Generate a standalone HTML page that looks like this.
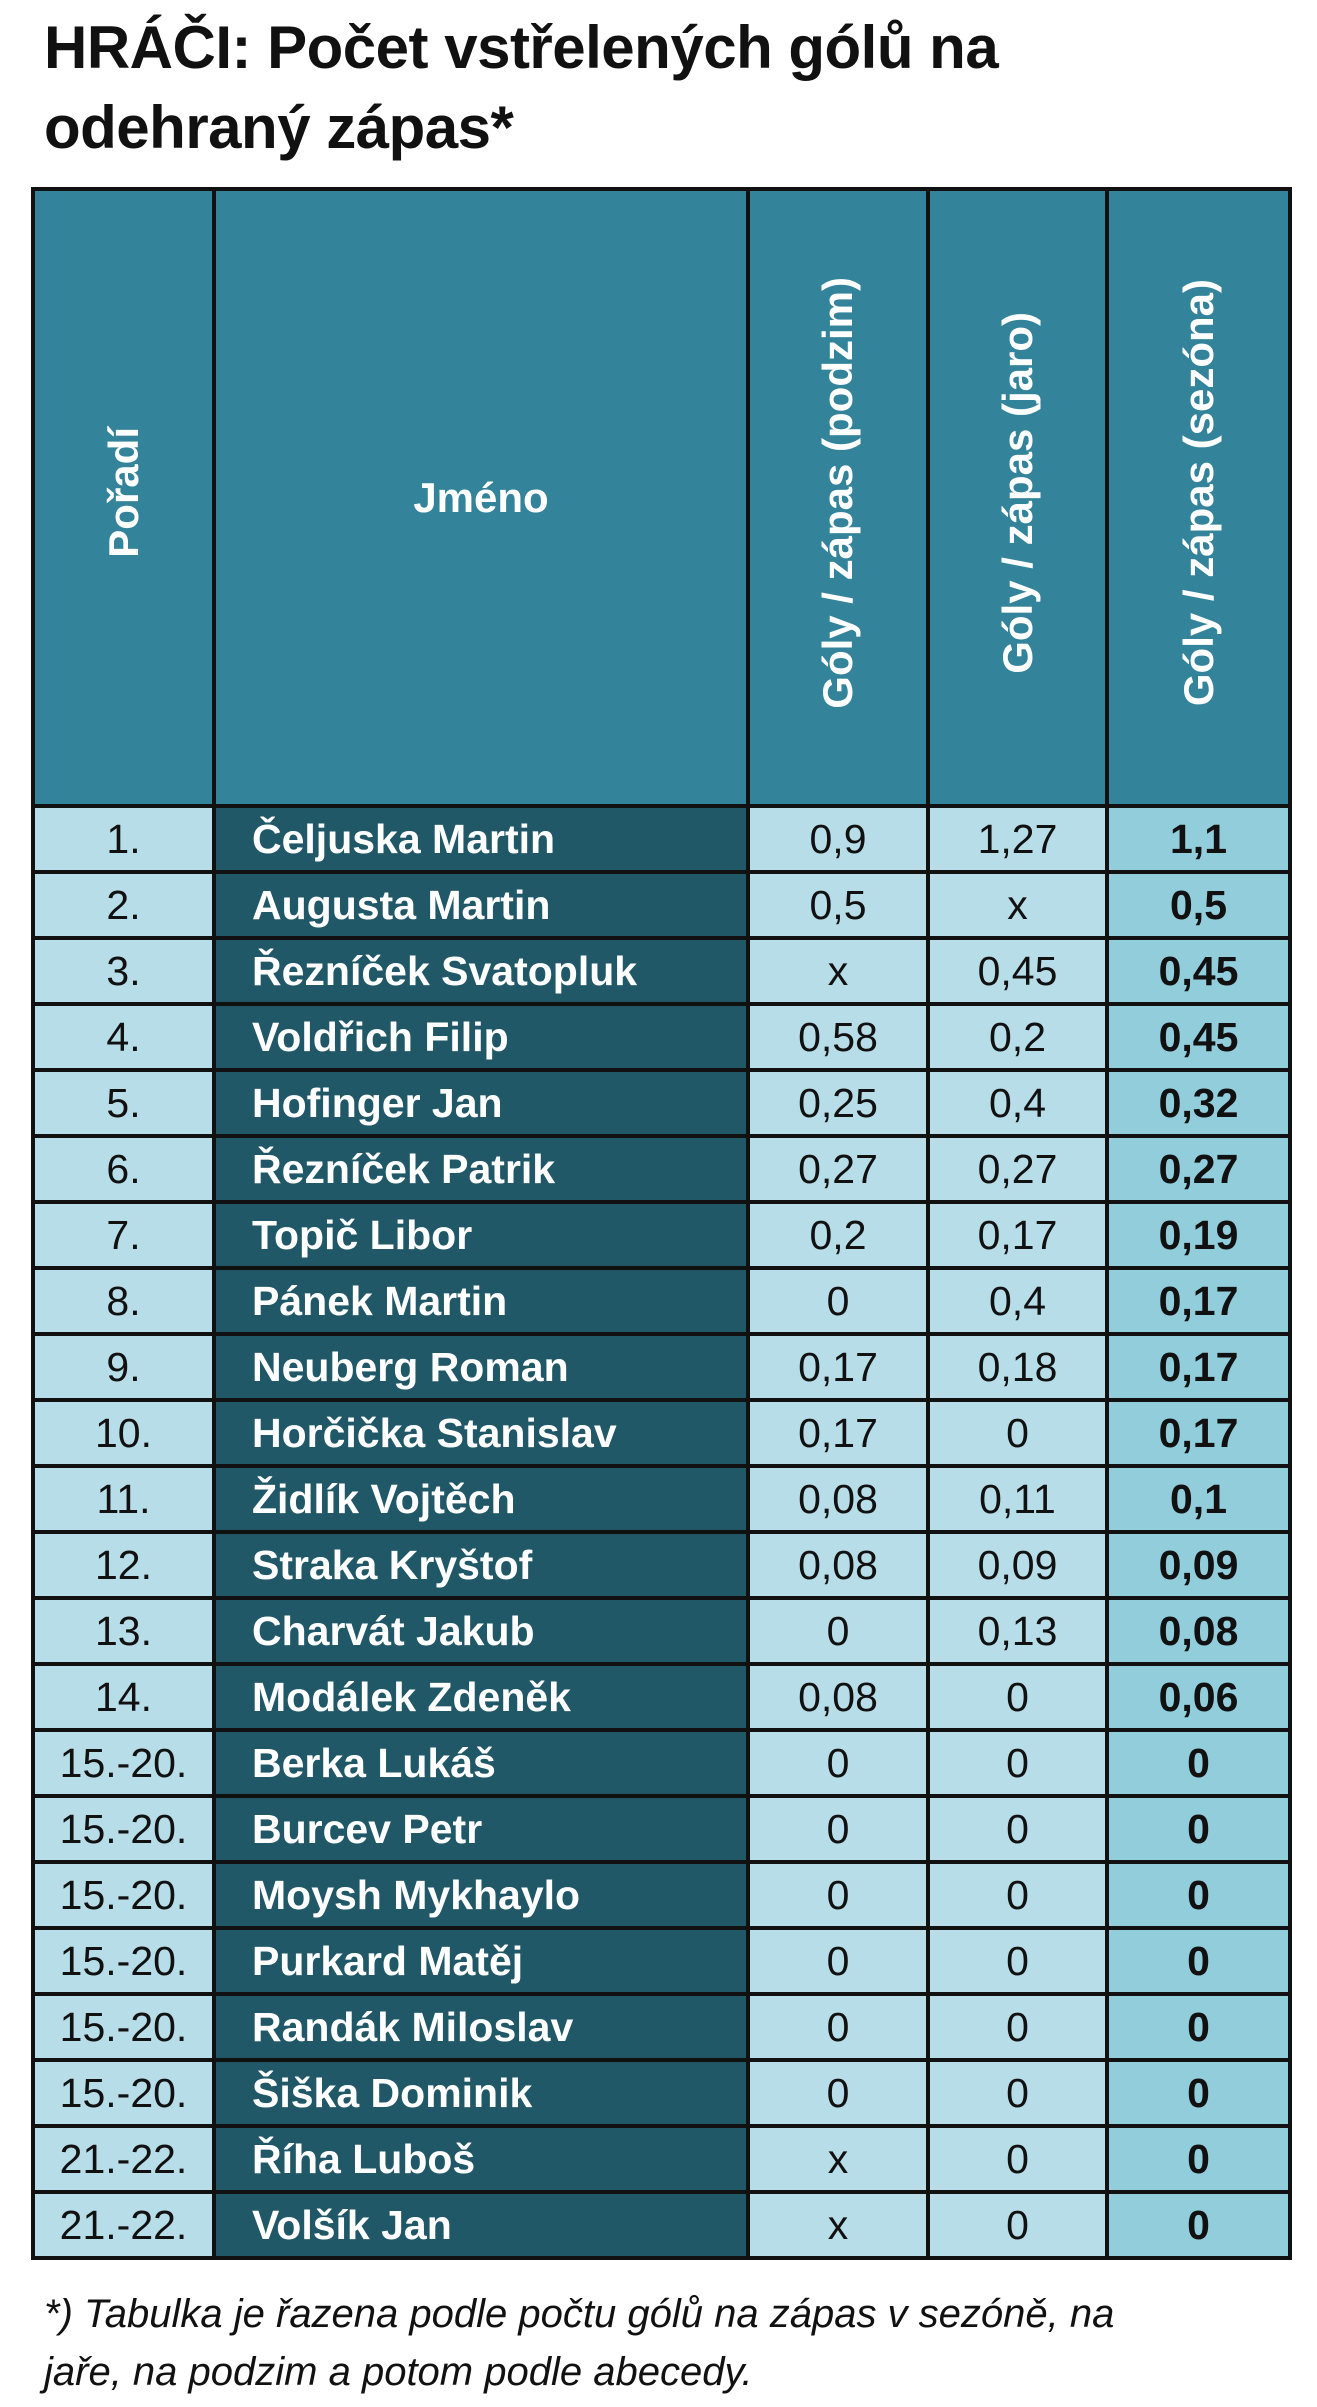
<!DOCTYPE html>
<html><head><meta charset="utf-8"><style>
body{margin:0;width:1317px;height:2407px;background:#fff;font-family:"Liberation Sans",sans-serif;position:relative;overflow:hidden}
h1{position:absolute;left:44px;top:8px;margin:0;font-size:60px;line-height:80px;font-weight:bold;color:#111;letter-spacing:-0.5px}
table{position:absolute;left:31px;top:187px;width:1257px;border-collapse:collapse;table-layout:fixed}
td,th{border:4px solid #111;padding:0;height:62px;font-size:41px;text-align:center;color:#111}
th{height:613px;background:#33849b;color:#fff;font-size:42px}
th .v{writing-mode:vertical-rl;transform:rotate(180deg);display:inline-block;white-space:nowrap}
td{background:#b7dde8}
td.n{background:#215868;color:#fff;font-weight:bold;text-align:left;padding-left:36px}
td.s{background:#92cddc;font-weight:bold}
.foot{position:absolute;left:44px;top:2285px;font-size:40px;font-style:italic;line-height:58px;color:#111}
</style></head><body>
<h1>HRÁČI: Počet vstřelených gólů na<br>odehraný zápas*</h1>
<table>
<colgroup><col style="width:181px"><col style="width:534px"><col style="width:180px"><col style="width:179px"><col style="width:183px"></colgroup>
<tr><th><span class="v">Pořadí</span></th><th>Jméno</th><th><span class="v">Góly / zápas (podzim)</span></th><th><span class="v">Góly / zápas (jaro)</span></th><th><span class="v">Góly / zápas (sezóna)</span></th></tr>
<tr><td>1.</td><td class="n">Čeljuska Martin</td><td>0,9</td><td>1,27</td><td class="s">1,1</td></tr>
<tr><td>2.</td><td class="n">Augusta Martin</td><td>0,5</td><td>x</td><td class="s">0,5</td></tr>
<tr><td>3.</td><td class="n">Řezníček Svatopluk</td><td>x</td><td>0,45</td><td class="s">0,45</td></tr>
<tr><td>4.</td><td class="n">Voldřich Filip</td><td>0,58</td><td>0,2</td><td class="s">0,45</td></tr>
<tr><td>5.</td><td class="n">Hofinger Jan</td><td>0,25</td><td>0,4</td><td class="s">0,32</td></tr>
<tr><td>6.</td><td class="n">Řezníček Patrik</td><td>0,27</td><td>0,27</td><td class="s">0,27</td></tr>
<tr><td>7.</td><td class="n">Topič Libor</td><td>0,2</td><td>0,17</td><td class="s">0,19</td></tr>
<tr><td>8.</td><td class="n">Pánek Martin</td><td>0</td><td>0,4</td><td class="s">0,17</td></tr>
<tr><td>9.</td><td class="n">Neuberg Roman</td><td>0,17</td><td>0,18</td><td class="s">0,17</td></tr>
<tr><td>10.</td><td class="n">Horčička Stanislav</td><td>0,17</td><td>0</td><td class="s">0,17</td></tr>
<tr><td>11.</td><td class="n">Židlík Vojtěch</td><td>0,08</td><td>0,11</td><td class="s">0,1</td></tr>
<tr><td>12.</td><td class="n">Straka Kryštof</td><td>0,08</td><td>0,09</td><td class="s">0,09</td></tr>
<tr><td>13.</td><td class="n">Charvát Jakub</td><td>0</td><td>0,13</td><td class="s">0,08</td></tr>
<tr><td>14.</td><td class="n">Modálek Zdeněk</td><td>0,08</td><td>0</td><td class="s">0,06</td></tr>
<tr><td>15.-20.</td><td class="n">Berka Lukáš</td><td>0</td><td>0</td><td class="s">0</td></tr>
<tr><td>15.-20.</td><td class="n">Burcev Petr</td><td>0</td><td>0</td><td class="s">0</td></tr>
<tr><td>15.-20.</td><td class="n">Moysh Mykhaylo</td><td>0</td><td>0</td><td class="s">0</td></tr>
<tr><td>15.-20.</td><td class="n">Purkard Matěj</td><td>0</td><td>0</td><td class="s">0</td></tr>
<tr><td>15.-20.</td><td class="n">Randák Miloslav</td><td>0</td><td>0</td><td class="s">0</td></tr>
<tr><td>15.-20.</td><td class="n">Šiška Dominik</td><td>0</td><td>0</td><td class="s">0</td></tr>
<tr><td>21.-22.</td><td class="n">Říha Luboš</td><td>x</td><td>0</td><td class="s">0</td></tr>
<tr><td>21.-22.</td><td class="n">Volšík Jan</td><td>x</td><td>0</td><td class="s">0</td></tr>
</table>
<div class="foot">*) Tabulka je řazena podle počtu gólů na zápas v sezóně, na<br>jaře, na podzim a potom podle abecedy.</div>
</body></html>
